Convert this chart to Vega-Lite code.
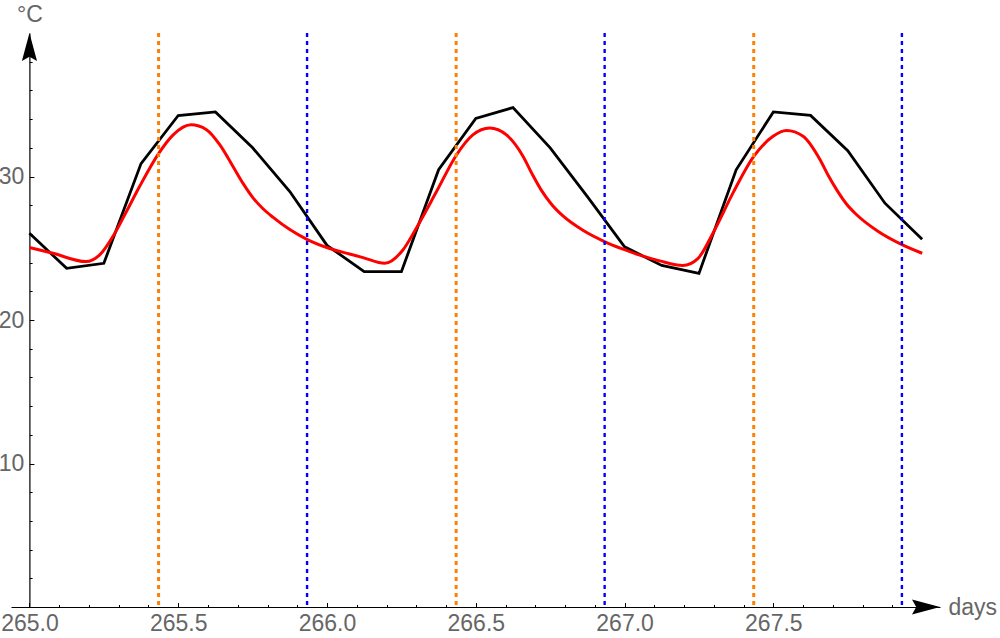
{
  "$schema": "https://vega.github.io/schema/vega-lite/v6.json",
  "width": 929,
  "height": 574,
  "autosize": {"type": "none"},
  "padding": {"left": 11, "top": 33, "right": 60, "bottom": 31},
  "config": {
    "view": {"stroke": null},
    "axis": {
      "grid": false,
      "labelFont": "Liberation Sans",
      "titleFont": "Liberation Sans",
      "labelFontSize": 23,
      "titleFontSize": 23,
      "titleFontWeight": "normal",
      "labelColor": "#666666",
      "titleColor": "#666666",
      "tickColor": "#000000",
      "domainColor": "#000000",
      "tickWidth": 1
    }
  },
  "datasets": {
    "obs": [
      {"day": 265.0, "temp": 26.05},
      {"day": 265.125, "temp": 23.6},
      {"day": 265.25, "temp": 23.95},
      {"day": 265.375, "temp": 30.9},
      {"day": 265.5, "temp": 34.25},
      {"day": 265.625, "temp": 34.5},
      {"day": 265.75, "temp": 32.0},
      {"day": 265.875, "temp": 28.95},
      {"day": 266.0, "temp": 25.2},
      {"day": 266.125, "temp": 23.37},
      {"day": 266.25, "temp": 23.37},
      {"day": 266.375, "temp": 30.47},
      {"day": 266.5, "temp": 34.05},
      {"day": 266.625, "temp": 34.8},
      {"day": 266.75, "temp": 32.0},
      {"day": 266.875, "temp": 28.6},
      {"day": 267.0, "temp": 25.1},
      {"day": 267.125, "temp": 23.8},
      {"day": 267.25, "temp": 23.25},
      {"day": 267.375, "temp": 30.47},
      {"day": 267.5, "temp": 34.5},
      {"day": 267.625, "temp": 34.26},
      {"day": 267.75, "temp": 31.8},
      {"day": 267.875, "temp": 28.14},
      {"day": 268.0, "temp": 25.63}
    ],
    "model": [
      {"day": 265.0, "temp": 25.05},
      {"day": 265.079, "temp": 24.65},
      {"day": 265.19, "temp": 24.07},
      {"day": 265.236, "temp": 24.54},
      {"day": 265.287, "temp": 26.05},
      {"day": 265.326, "temp": 27.56},
      {"day": 265.37, "temp": 29.3},
      {"day": 265.435, "temp": 31.63},
      {"day": 265.483, "temp": 32.9},
      {"day": 265.543, "temp": 33.6},
      {"day": 265.595, "temp": 33.26},
      {"day": 265.64, "temp": 32.2},
      {"day": 265.684, "temp": 30.7},
      {"day": 265.72, "temp": 29.45},
      {"day": 265.75, "temp": 28.55},
      {"day": 265.785, "temp": 27.75},
      {"day": 265.819, "temp": 27.15},
      {"day": 265.875, "temp": 26.3},
      {"day": 265.934, "temp": 25.6},
      {"day": 266.009, "temp": 24.98},
      {"day": 266.076, "temp": 24.6},
      {"day": 266.121, "temp": 24.35},
      {"day": 266.194, "temp": 23.95},
      {"day": 266.255, "temp": 24.88},
      {"day": 266.3, "temp": 26.4},
      {"day": 266.368, "temp": 28.95},
      {"day": 266.435, "temp": 31.5},
      {"day": 266.49, "temp": 32.9},
      {"day": 266.547, "temp": 33.38},
      {"day": 266.603, "temp": 32.9},
      {"day": 266.659, "temp": 31.4},
      {"day": 266.69, "temp": 30.15},
      {"day": 266.72, "temp": 29.05},
      {"day": 266.755, "temp": 28.05},
      {"day": 266.793, "temp": 27.25},
      {"day": 266.86, "temp": 26.25},
      {"day": 266.934, "temp": 25.45},
      {"day": 267.0, "temp": 24.9},
      {"day": 267.051, "temp": 24.52},
      {"day": 267.118, "temp": 24.12},
      {"day": 267.196, "temp": 23.8},
      {"day": 267.247, "temp": 24.3},
      {"day": 267.297, "temp": 26.05},
      {"day": 267.364, "temp": 28.84},
      {"day": 267.434, "temp": 31.4},
      {"day": 267.499, "temp": 32.8},
      {"day": 267.544, "temp": 33.2},
      {"day": 267.6, "temp": 32.8},
      {"day": 267.656, "temp": 31.2},
      {"day": 267.685, "temp": 30.05},
      {"day": 267.712, "temp": 29.1},
      {"day": 267.745, "temp": 28.1},
      {"day": 267.779, "temp": 27.35},
      {"day": 267.85, "temp": 26.2},
      {"day": 267.932, "temp": 25.25},
      {"day": 268.0, "temp": 24.65}
    ],
    "markers": [
      {"day": 265.434, "kind": "orange"},
      {"day": 266.434, "kind": "orange"},
      {"day": 267.434, "kind": "orange"},
      {"day": 265.933, "kind": "blue"},
      {"day": 266.933, "kind": "blue"},
      {"day": 267.932, "kind": "blue"}
    ]
  },
  "layer": [
    {
      "data": {"name": "obs"},
      "mark": {"type": "line", "color": "#000000", "strokeWidth": 2.8},
      "encoding": {
        "x": {
          "field": "day", "type": "quantitative",
          "scale": {"domain": [264.938, 268.06], "nice": false, "zero": false},
          "axis": {
            "orient": "bottom",
            "values": [265, 265.5, 266, 266.5, 267, 267.5],
            "format": ".1f",
            "tickSize": -4.5,
            "labelPadding": 10,
            "labelFlush": false,
            "labelOverlap": false,
            "domain": true,
            "domainWidth": 1.2,
            "title": "days",
            "titleX": 937,
            "titleY": 7,
            "titleAlign": "left",
            "titleBaseline": "alphabetic",
            "zindex": 0
          }
        },
        "y": {
          "field": "temp", "type": "quantitative",
          "scale": {"domain": [0, 40], "nice": false, "zero": false},
          "axis": {
            "orient": "left",
            "offset": -18.4,
            "values": [10, 20, 30],
            "tickSize": -4.5,
            "labelPadding": 10,
            "labelOverlap": false,
            "domain": true,
            "domainWidth": 1.2,
            "title": "°C",
            "titleAngle": 0,
            "titleX": 0,
            "titleY": -12,
            "titleAlign": "center",
            "titleBaseline": "alphabetic",
            "zindex": 0
          }
        }
      }
    },
    {
      "data": {"name": "model"},
      "mark": {"type": "line", "color": "#FF0000", "strokeWidth": 3, "interpolate": "monotone"},
      "encoding": {
        "x": {
          "field": "day", "type": "quantitative",
          "scale": {"domain": [264.938, 268.06], "nice": false, "zero": false},
          "axis": {
            "orient": "bottom",
            "values": [265.1, 265.2, 265.3, 265.4, 265.6, 265.7, 265.8, 265.9, 266.1, 266.2, 266.3, 266.4, 266.6, 266.7, 266.8, 266.9, 267.1, 267.2, 267.3, 267.4, 267.6, 267.7, 267.8, 267.9],
            "labels": false,
            "domain": false,
            "tickSize": -2.5,
            "title": null,
            "zindex": 0
          }
        },
        "y": {
          "field": "temp", "type": "quantitative",
          "scale": {"domain": [0, 40], "nice": false, "zero": false},
          "axis": {
            "orient": "left",
            "offset": -18.4,
            "values": [2, 4, 6, 8, 12, 14, 16, 18, 22, 24, 26, 28, 32, 34, 36, 38],
            "labels": false,
            "domain": false,
            "tickSize": -2.7,
            "title": null,
            "zindex": 0
          }
        }
      }
    },
    {
      "data": {"name": "markers"},
      "transform": [{"filter": "datum.kind === 'orange'"}],
      "mark": {"type": "rule", "color": "#FF8000", "strokeWidth": 3, "strokeDash": [4, 4]},
      "encoding": {
        "x": {"field": "day", "type": "quantitative", "scale": {"domain": [264.938, 268.06], "nice": false, "zero": false}, "axis": null}
      }
    },
    {
      "data": {"name": "markers"},
      "transform": [{"filter": "datum.kind === 'blue'"}],
      "mark": {"type": "rule", "color": "#0000FF", "strokeWidth": 2.4, "strokeDash": [4, 4]},
      "encoding": {
        "x": {"field": "day", "type": "quantitative", "scale": {"domain": [264.938, 268.06], "nice": false, "zero": false}, "axis": null}
      }
    },
    {
      "data": {"values": [{}]},
      "mark": {"type": "point", "shape": "M0,0L-2,-0.54L-1.7,0L-2,0.54Z", "size": 784, "filled": true, "color": "#000000", "opacity": 1, "strokeWidth": 0},
      "encoding": {
        "x": {"datum": 268.06, "type": "quantitative", "scale": {"domain": [264.938, 268.06], "nice": false, "zero": false}, "axis": null},
        "y": {"datum": 0, "type": "quantitative", "scale": {"domain": [0, 40], "nice": false, "zero": false}, "axis": null}
      }
    },
    {
      "data": {"values": [{}]},
      "mark": {"type": "point", "shape": "M0,0L-0.54,2L0,1.7L0.54,2Z", "size": 784, "filled": true, "color": "#000000", "opacity": 1, "strokeWidth": 0},
      "encoding": {
        "x": {"datum": 265, "type": "quantitative", "scale": {"domain": [264.938, 268.06], "nice": false, "zero": false}, "axis": null},
        "y": {"datum": 40, "type": "quantitative", "scale": {"domain": [0, 40], "nice": false, "zero": false}, "axis": null}
      }
    }
  ],
  "resolve": {"axis": {"x": "independent", "y": "independent"}}
}
